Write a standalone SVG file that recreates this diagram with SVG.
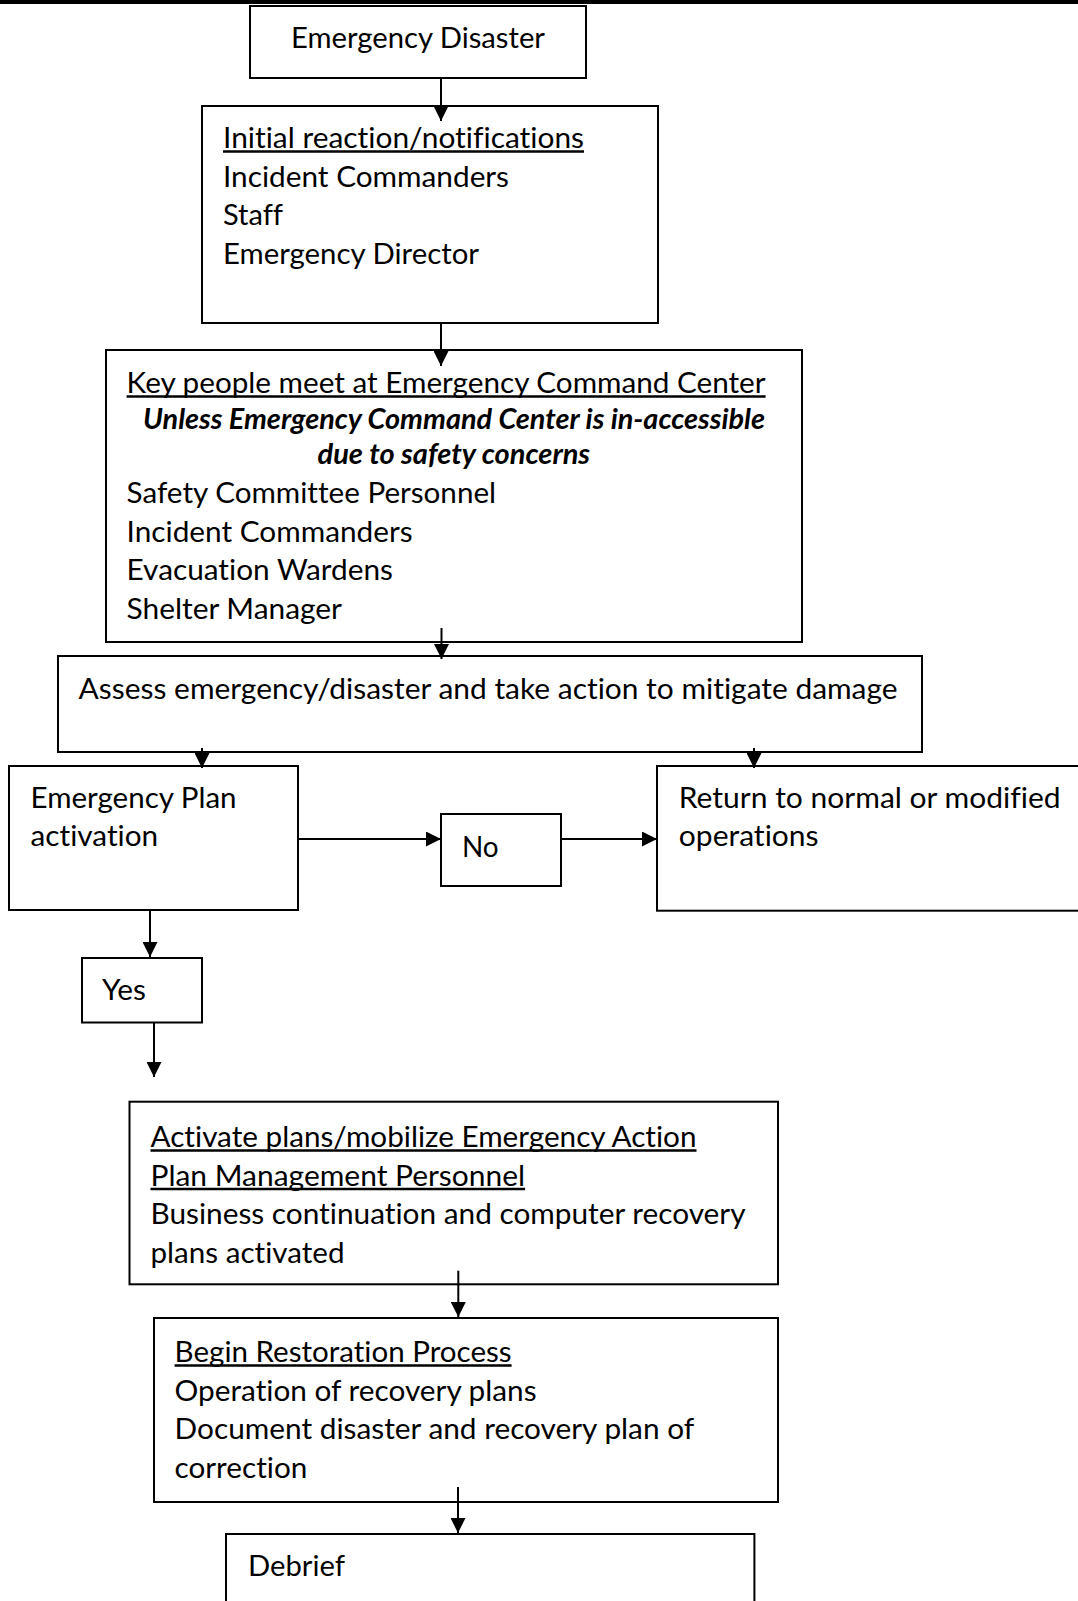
<svg xmlns="http://www.w3.org/2000/svg" width="1078" height="1601" viewBox="0 0 1078 1601">
<defs>
<style>
.box{fill:#fff;stroke:#000;stroke-width:2}
.t{font-family:Lato,"Open Sans","Liberation Sans",sans-serif;font-size:29px;fill:#000;font-variant-ligatures:none;font-feature-settings:"liga" 0,"clig" 0}
.ul{stroke:#000;stroke-width:2.5}
.bi{font-weight:bold;font-style:italic}
.c{fill:none;stroke:#000;stroke-width:2}
</style>
<marker id="ah" viewBox="0 0 15 15" refX="15" refY="7.5" markerWidth="15" markerHeight="15" markerUnits="userSpaceOnUse" orient="auto">
<path d="M0,0 L15,7.5 L0,15 z" fill="#000"/>
</marker>
</defs>
<rect width="1078" height="1601" fill="#fff"/>
<rect x="0" y="0" width="1078" height="4" fill="#000"/>

<g id="emergency-disaster">
<rect class="box" x="250" y="6" width="336" height="72"/>
<text class="t" x="291" y="48" textLength="254" lengthAdjust="spacingAndGlyphs">Emergency Disaster</text>
</g>

<g id="initial-reaction">
<rect class="box" x="202" y="106" width="456" height="217"/>
<text class="t" x="223" y="148" textLength="361" lengthAdjust="spacingAndGlyphs">Initial reaction/notifications</text>
<line class="ul" x1="223" y1="151.5" x2="584" y2="151.5"/>
<text class="t" x="223" y="186.5" textLength="286" lengthAdjust="spacingAndGlyphs">Incident Commanders</text>
<text class="t" x="223" y="225" textLength="60" lengthAdjust="spacingAndGlyphs">Staff</text>
<text class="t" x="223" y="263.5" textLength="256" lengthAdjust="spacingAndGlyphs">Emergency Director</text>
</g>

<g id="key-people">
<rect class="box" x="106" y="350" width="696" height="292"/>
<text class="t" x="126.6" y="393" textLength="639" lengthAdjust="spacingAndGlyphs">Key people meet at Emergency Command Center</text>
<line class="ul" x1="126.6" y1="396.5" x2="765.6" y2="396.5"/>
<text class="t bi" x="143" y="429" textLength="622" lengthAdjust="spacingAndGlyphs">Unless Emergency Command Center is in-accessible</text>
<text class="t bi" x="317.5" y="464" textLength="272.6" lengthAdjust="spacingAndGlyphs">due to safety concerns</text>
<text class="t" x="126.6" y="503" textLength="369.5" lengthAdjust="spacingAndGlyphs">Safety Committee Personnel</text>
<text class="t" x="126.6" y="541.5" textLength="286" lengthAdjust="spacingAndGlyphs">Incident Commanders</text>
<text class="t" x="126.6" y="580" textLength="266.4" lengthAdjust="spacingAndGlyphs">Evacuation Wardens</text>
<text class="t" x="126.6" y="619" textLength="215.4" lengthAdjust="spacingAndGlyphs">Shelter Manager</text>
</g>

<g id="assess">
<rect class="box" x="58" y="656" width="864" height="96"/>
<text class="t" x="78.6" y="699" textLength="819" lengthAdjust="spacingAndGlyphs">Assess emergency/disaster and take action to mitigate damage</text>
</g>

<g id="plan-activation">
<rect class="box" x="9" y="766" width="289" height="144"/>
<text class="t" x="30.6" y="807.5" textLength="206" lengthAdjust="spacingAndGlyphs">Emergency Plan</text>
<text class="t" x="30.6" y="846" textLength="127.6" lengthAdjust="spacingAndGlyphs">activation</text>
</g>

<g id="no">
<rect class="box" x="441" y="814" width="120" height="72"/>
<text class="t" x="462" y="856.5" textLength="36.7" lengthAdjust="spacingAndGlyphs">No</text>
</g>

<g id="return-normal">
<rect class="box" x="657" y="766" width="440" height="144.7"/>
<text class="t" x="678.8" y="807.5" textLength="381.8" lengthAdjust="spacingAndGlyphs">Return to normal or modified</text>
<text class="t" x="678.8" y="846" textLength="139.8" lengthAdjust="spacingAndGlyphs">operations</text>
</g>

<g id="yes">
<rect class="box" x="82" y="958" width="120" height="64.5"/>
<text class="t" x="102" y="1000" textLength="43.9" lengthAdjust="spacingAndGlyphs">Yes</text>
</g>

<g id="activate-plans">
<rect class="box" x="129.5" y="1101.7" width="648.5" height="182.6"/>
<text class="t" x="150.5" y="1147" textLength="546" lengthAdjust="spacingAndGlyphs">Activate plans/mobilize Emergency Action</text>
<line class="ul" x1="150.5" y1="1150.5" x2="696.5" y2="1150.5"/>
<text class="t" x="150.5" y="1185.5" textLength="374.6" lengthAdjust="spacingAndGlyphs">Plan Management Personnel</text>
<line class="ul" x1="150.5" y1="1189" x2="525.1" y2="1189"/>
<text class="t" x="150.5" y="1224" textLength="595" lengthAdjust="spacingAndGlyphs">Business continuation and computer recovery</text>
<text class="t" x="150.5" y="1262.5" textLength="194" lengthAdjust="spacingAndGlyphs">plans activated</text>
</g>

<g id="restoration">
<rect class="box" x="154" y="1318" width="624" height="184"/>
<text class="t" x="174.6" y="1362" textLength="337" lengthAdjust="spacingAndGlyphs">Begin Restoration Process</text>
<line class="ul" x1="174.6" y1="1365.5" x2="511.6" y2="1365.5"/>
<text class="t" x="174.6" y="1400.5" textLength="362" lengthAdjust="spacingAndGlyphs">Operation of recovery plans</text>
<text class="t" x="174.6" y="1439" textLength="519.6" lengthAdjust="spacingAndGlyphs">Document disaster and recovery plan of</text>
<text class="t" x="174.6" y="1477.5" textLength="132.7" lengthAdjust="spacingAndGlyphs">correction</text>
</g>

<g id="debrief">
<rect class="box" x="226" y="1534" width="528.4" height="100"/>
<text class="t" x="248" y="1575.5" textLength="97" lengthAdjust="spacingAndGlyphs">Debrief</text>
</g>

<g id="connectors">
<line class="c" x1="441" y1="78" x2="441" y2="121" marker-end="url(#ah)"/>
<line class="c" x1="441" y1="323" x2="441" y2="366" marker-end="url(#ah)"/>
<line class="c" x1="441.5" y1="628" x2="441.5" y2="659" marker-end="url(#ah)"/>
<line class="c" x1="202" y1="748" x2="202" y2="768" marker-end="url(#ah)"/>
<line class="c" x1="754" y1="748" x2="754" y2="768" marker-end="url(#ah)"/>
<line class="c" x1="298" y1="839" x2="441" y2="839" marker-end="url(#ah)"/>
<line class="c" x1="561" y1="839" x2="657" y2="839" marker-end="url(#ah)"/>
<line class="c" x1="150" y1="910" x2="150" y2="957" marker-end="url(#ah)"/>
<line class="c" x1="154" y1="1022.5" x2="154" y2="1077" marker-end="url(#ah)"/>
<line class="c" x1="458.3" y1="1270.7" x2="458.3" y2="1317" marker-end="url(#ah)"/>
<line class="c" x1="458" y1="1487" x2="458" y2="1533" marker-end="url(#ah)"/>
</g>
</svg>
